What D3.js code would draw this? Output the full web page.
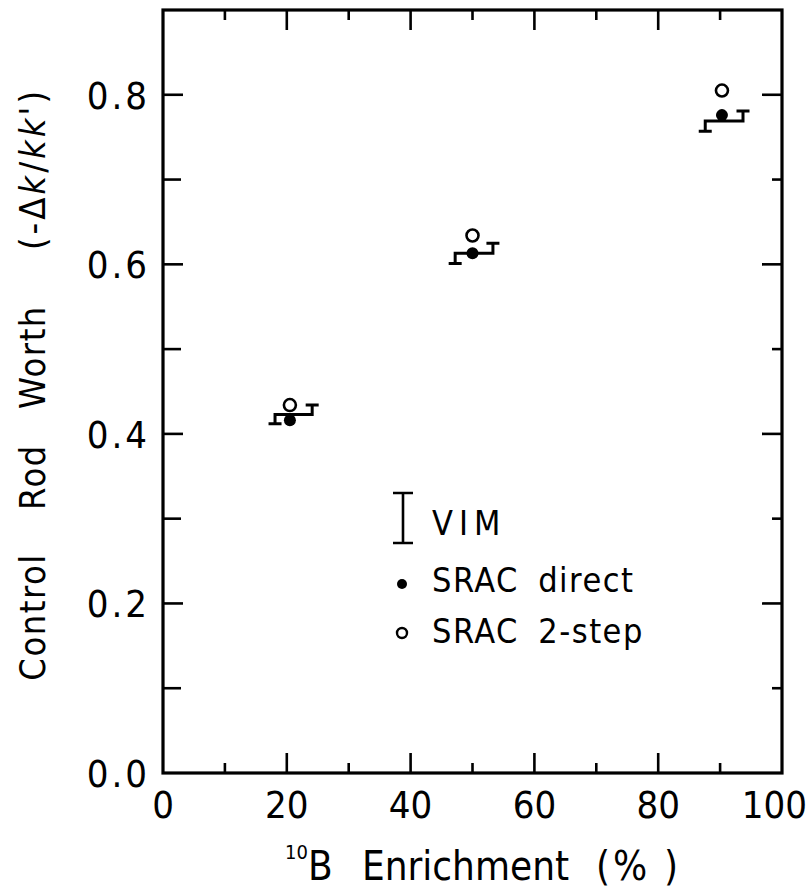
<!DOCTYPE html>
<html>
<head>
<meta charset="utf-8">
<script src="https://cdn.jsdelivr.net/npm/d3@7"></script>
<style>
  html, body { margin: 0; padding: 0; background: #fff; }
  svg { display: block; }
  text { font-family: "Liberation Sans Narrow", "DejaVu Sans Condensed", "Liberation Sans", sans-serif; fill: #000; }
</style>
</head>
<body>
<svg id="chart" width="811" height="896"></svg>
<script>
// ---- data ----
const enrichment = [20.5, 50, 90.3];
const sracDirect = [0.416, 0.613, 0.776];
const srac2Step = [0.434, 0.634, 0.805];
const vimValue = [0.423, 0.613, 0.769];
const vimError = [0.011, 0.012, 0.012];
const vimLow = [18.1, 47.2, 87.6];
const vimHigh = [24.1, 53.3, 93.7];
const xTickLabels = ["0", "20", "40", "60", "80", "100"];
const yTickLabels = ["0.0", "0.2", "0.4", "0.6", "0.8"];
const legendLabels = ["VIM", "SRAC direct", "SRAC 2-step"];
const yTitleWords = ["Control", "Rod", "Worth"];

const svg = d3.select("#chart");
const m = { left: 163, right: 782, top: 10, bottom: 773 };
const x = d3.scaleLinear().domain([0, 100]).range([m.left, m.right]);
const y = d3.scaleLinear().domain([0, 0.9]).range([m.bottom, m.top]);

const ink = "#000";
const g = svg.append("g");

// ticks (inward)
const xMajor = d3.range(0, 101, 20), xMinor = d3.range(10, 100, 20);
const yMajor = d3.range(0, 0.81, 0.2), yMinor = d3.range(0.1, 0.9, 0.2);

function tickLines(vals, fn, len, cls) {
  g.selectAll("line." + cls).data(vals).enter().append("line")
    .attr("class", cls).each(function(d) { fn(d3.select(this), d, len); })
    .attr("stroke", ink).attr("stroke-width", 2.6);
}
// bottom
tickLines(xMajor.slice(1, -1), (s, d, l) => s.attr("x1", x(d)).attr("x2", x(d)).attr("y1", y(0)).attr("y2", y(0) - l), 20, "bmaj");
tickLines(xMinor, (s, d, l) => s.attr("x1", x(d)).attr("x2", x(d)).attr("y1", y(0)).attr("y2", y(0) - l), 10, "bmin");
// top
tickLines(xMajor.slice(1, -1), (s, d, l) => s.attr("x1", x(d)).attr("x2", x(d)).attr("y1", y(0.9)).attr("y2", y(0.9) + l), 20, "tmaj");
tickLines(xMinor, (s, d, l) => s.attr("x1", x(d)).attr("x2", x(d)).attr("y1", y(0.9)).attr("y2", y(0.9) + l), 10, "tmin");
// left
tickLines(yMajor.slice(1), (s, d, l) => s.attr("x1", x(0)).attr("x2", x(0) + l).attr("y1", y(d)).attr("y2", y(d)), 20, "lmaj");
tickLines(yMinor, (s, d, l) => s.attr("x1", x(0)).attr("x2", x(0) + l).attr("y1", y(d)).attr("y2", y(d)), 18, "lmin");
// right
tickLines(yMajor.slice(1), (s, d, l) => s.attr("x1", x(100)).attr("x2", x(100) - l).attr("y1", y(d)).attr("y2", y(d)), 20, "rmaj");
tickLines(yMinor, (s, d, l) => s.attr("x1", x(100)).attr("x2", x(100) - l).attr("y1", y(d)).attr("y2", y(d)), 10, "rmin");

// frame
g.append("rect").attr("x", x(0)).attr("y", y(0.9)).attr("width", x(100) - x(0)).attr("height", y(0) - y(0.9))
  .attr("fill", "none").attr("stroke", ink).attr("stroke-width", 3.2);

// tick labels
const lastI = xTickLabels.length - 1;
g.selectAll("text.xl").data(xTickLabels).enter().append("text").attr("class", "xl")
  .attr("x", (d, i) => i === lastI ? 807 : x(xMajor[i]))
  .attr("y", 818).attr("text-anchor", (d, i) => i === lastI ? "end" : "middle")
  .attr("font-size", 38).text(d => d);
g.selectAll("text.yl").data(yTickLabels).enter().append("text").attr("class", "yl")
  .attr("x", 150).attr("y", (d, i) => y(yMajor[i]) + 14).attr("text-anchor", "end")
  .attr("font-size", 38).attr("letter-spacing", 3).text(d => d);

// x axis title
const xt = g.append("text").attr("y", 880).attr("font-size", 40);
xt.append("tspan").attr("x", 285).attr("font-size", 20).attr("dy", -21).text("10");
xt.append("tspan").attr("x", 308).attr("dy", 21).text("B");
xt.append("tspan").attr("x", 362).text("Enrichment");
xt.append("tspan").attr("x", 596).text("(");
xt.append("tspan").attr("x", 613).text("%");
xt.append("tspan").attr("x", 664).text(")");

// y title: words centred along the rotated axis
const yWordCentre = [617, 477, 357];
yTitleWords.forEach((w, i) => {
  g.append("text").attr("transform", `translate(45,${yWordCentre[i]}) rotate(-90)`)
    .attr("text-anchor", "middle").attr("font-size", 36).attr("letter-spacing", 1.5).text(w);
});
const yp = g.append("text").attr("transform", "translate(45,169) rotate(-90)")
  .attr("text-anchor", "middle").attr("font-size", 36).attr("letter-spacing", 3);
yp.append("tspan").text("(-Δ");
yp.append("tspan").attr("font-style", "italic").text("k");
yp.append("tspan").text("/");
yp.append("tspan").attr("font-style", "italic").text("kk'");
yp.append("tspan").text(")");

// VIM step-shaped error marks
const cap = 6.5;
enrichment.forEach((e, i) => {
  const lo = vimValue[i] - vimError[i], hi = vimValue[i] + vimError[i];
  const path = d3.path();
  path.moveTo(x(vimLow[i]) - cap, y(lo)); path.lineTo(x(vimLow[i]) + cap, y(lo));
  path.moveTo(x(vimLow[i]), y(lo)); path.lineTo(x(vimLow[i]), y(vimValue[i]));
  path.lineTo(x(vimHigh[i]), y(vimValue[i])); path.lineTo(x(vimHigh[i]), y(hi));
  path.moveTo(x(vimHigh[i]) - cap, y(hi)); path.lineTo(x(vimHigh[i]) + cap, y(hi));
  g.append("path").attr("d", path.toString()).attr("fill", "none").attr("stroke", ink).attr("stroke-width", 3);
});

// SRAC points
g.selectAll("circle.direct").data(enrichment).enter().append("circle").attr("class", "direct")
  .attr("cx", d => x(d)).attr("cy", (d, i) => y(sracDirect[i])).attr("r", 6).attr("fill", ink);
g.selectAll("circle.two").data(enrichment).enter().append("circle").attr("class", "two")
  .attr("cx", d => x(d)).attr("cy", (d, i) => y(srac2Step[i])).attr("r", 6)
  .attr("fill", "#fff").attr("stroke", ink).attr("stroke-width", 2.6);

// legend
const lg = g.append("g");
lg.append("path").attr("d", "M393,493H413M403,493V543M393,543H413").attr("stroke", ink).attr("stroke-width", 2.6).attr("fill", "none");
lg.append("circle").attr("cx", 402).attr("cy", 584).attr("r", 5).attr("fill", ink);
lg.append("circle").attr("cx", 402).attr("cy", 633).attr("r", 5).attr("fill", "#fff").attr("stroke", ink).attr("stroke-width", 2.4);
lg.selectAll("text.lt").data(legendLabels).enter().append("text").attr("class", "lt")
  .attr("x", 432).attr("y", (d, i) => [535, 592, 643][i])
  .attr("font-size", 34).attr("letter-spacing", (d, i) => i === 0 ? 6 : 1.5).attr("word-spacing", 8).text(d => d);
</script>
</body>
</html>
